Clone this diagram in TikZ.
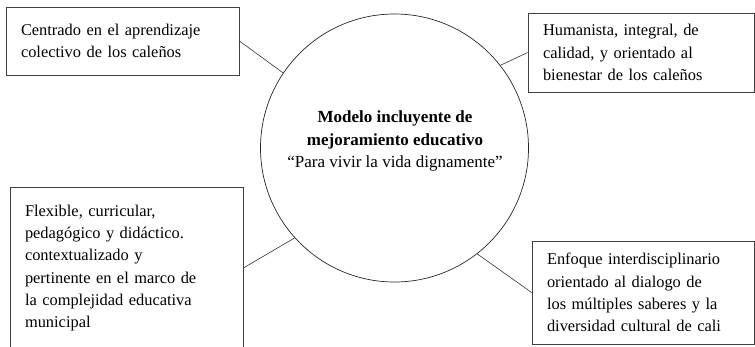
\documentclass[tikz,border=0pt]{standalone}
\usepackage{fontspec}
\setmainfont{Liberation Serif}
\begin{document}
\begin{tikzpicture}[x=1pt,y=-1pt,
  box/.style={draw=black!75,line width=0.8pt,rectangle,align=left,inner xsep=15pt,inner ysep=0pt,
    font=\fontsize{16.4}{22.3}\selectfont},
  conn/.style={draw=black!80,line width=0.6pt},
  ring/.style={draw=black!85,line width=0.7pt,circle,minimum size=268pt,inner sep=0pt}]
\useasboundingbox (0,0) rectangle (755,346);
\node[ring] (c) at (394.5,148) {};
\node[align=center,font=\fontsize{17}{22.3}\selectfont,inner sep=0pt] (ct) at (395,141)
  {\textbf{Modelo incluyente de}\\\textbf{mejoramiento educativo}\\“Para vivir la vida dignamente”};
\node[box,text width=203pt,minimum height=68pt] (b1) at (122.5,41)
  {Centrado en el aprendizaje\\colectivo de los caleños};
\node[box,text width=196pt,minimum height=79pt] (b2) at (641,52.5)
  {Humanista, integral, de\\calidad, y orientado al\\bienestar de los caleños};
\node[box,text width=203pt,minimum height=162pt] (b3) at (126.5,268)
  {Flexible, curricular,\\pedagógico y didáctico.\\contextualizado y\\pertinente en el marco de\\la complejidad educativa\\municipal};
\node[box,text width=192pt,minimum height=103pt] (b4) at (643,292.5)
  {Enfoque interdisciplinario\\orientado al dialogo de\\los múltiples saberes y la\\diversidad cultural de cali};
\draw[conn] (b1.east) -- (c.146.8);
\draw[conn] (b2.west) -- (c.38.3);
\draw[conn] (b3.east) -- (c.222.3);
\draw[conn] (b4.west) -- (c.308.7);
\end{tikzpicture}
\end{document}
